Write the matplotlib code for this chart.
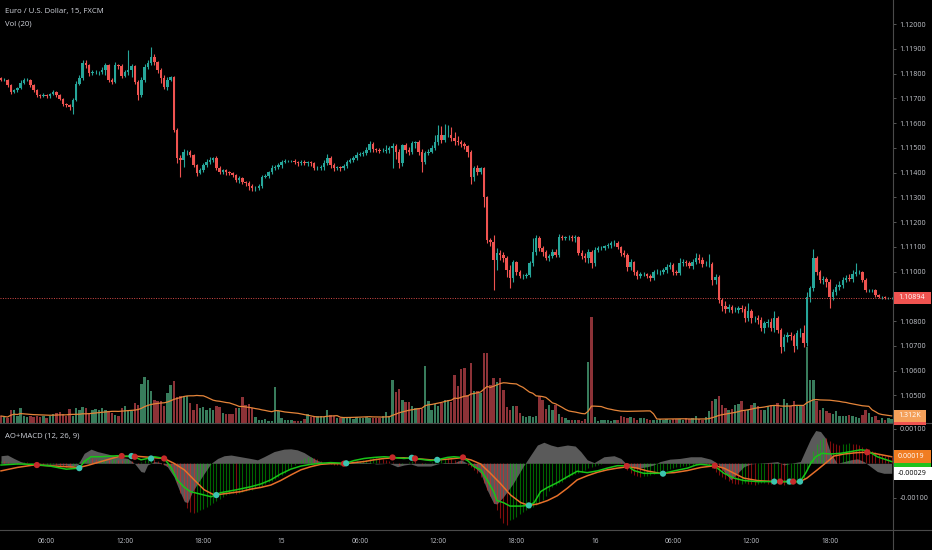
import numpy as np
import pandas as pd
import matplotlib
matplotlib.use("Agg")
import matplotlib.pyplot as plt
from matplotlib.patches import Rectangle
from matplotlib.lines import Line2D

plt.rcParams['font.family'] = ['Open Sans', 'DejaVu Sans']

# EUR/USD 15 min (FXCM)
closes = [
    1.11774, 1.11774, 1.11754, 1.11725, 1.11733, 1.11741, 1.11762, 1.11774, 1.11774, 1.11754,
    1.11733, 1.11713, 1.11709, 1.11713, 1.11709, 1.11717, 1.11725, 1.11713, 1.11697, 1.11677,
    1.11673, 1.11665, 1.11693, 1.11758, 1.11782, 1.11842, 1.11834, 1.11802, 1.11806, 1.11806,
    1.11806, 1.11814, 1.11834, 1.11774, 1.11766, 1.11834, 1.11830, 1.11790, 1.11806, 1.11814,
    1.11830, 1.11766, 1.11713, 1.11774, 1.11826, 1.11842, 1.11867, 1.11846, 1.11814, 1.11782,
    1.11745, 1.11774, 1.11786, 1.11572, 1.11459, 1.11451, 1.11483, 1.11483, 1.11471, 1.11430,
    1.11398, 1.11410, 1.11430, 1.11443, 1.11451, 1.11459, 1.11418, 1.11402, 1.11410, 1.11402,
    1.11398, 1.11390, 1.11370, 1.11378, 1.11362, 1.11358, 1.11346, 1.11337, 1.11337, 1.11346,
    1.11382, 1.11386, 1.11402, 1.11418, 1.11422, 1.11430, 1.11443, 1.11447, 1.11447, 1.11447,
    1.11443, 1.11438, 1.11443, 1.11438, 1.11443, 1.11438, 1.11418, 1.11418, 1.11422, 1.11438,
    1.11459, 1.11430, 1.11418, 1.11422, 1.11418, 1.11426, 1.11443, 1.11451, 1.11459, 1.11471,
    1.11475, 1.11479, 1.11491, 1.11515, 1.11495, 1.11491, 1.11487, 1.11487, 1.11491, 1.11499,
    1.11507, 1.11483, 1.11438, 1.11511, 1.11491, 1.11483, 1.11519, 1.11523, 1.11483, 1.11443,
    1.11479, 1.11483, 1.11499, 1.11523, 1.11552, 1.11531, 1.11552, 1.11552, 1.11539, 1.11527,
    1.11523, 1.11515, 1.11507, 1.11483, 1.11382, 1.11418, 1.11402, 1.11418, 1.11301, 1.11127,
    1.11119, 1.11047, 1.11075, 1.11067, 1.11055, 1.11006, 1.10974, 1.11038, 1.10998, 1.10982,
    1.10982, 1.10986, 1.11034, 1.11079, 1.11135, 1.11095, 1.11079, 1.11055, 1.11063, 1.11079,
    1.11067, 1.11139, 1.11135, 1.11139, 1.11139, 1.11135, 1.11139, 1.11075, 1.11063, 1.11055,
    1.11079, 1.11034, 1.11087, 1.11095, 1.11095, 1.11103, 1.11107, 1.11115, 1.11115, 1.11099,
    1.11075, 1.11067, 1.11018, 1.11038, 1.10998, 1.10982, 1.10990, 1.10990, 1.10982, 1.10974,
    1.10998, 1.10998, 1.10998, 1.11006, 1.11018, 1.11026, 1.10998, 1.10994, 1.11034, 1.11038,
    1.11034, 1.11022, 1.11038, 1.11055, 1.11047, 1.11030, 1.11030, 1.11030, 1.10966, 1.10978,
    1.10885, 1.10861, 1.10849, 1.10857, 1.10845, 1.10845, 1.10853, 1.10849, 1.10812, 1.10841,
    1.10812, 1.10812, 1.10804, 1.10772, 1.10792, 1.10796, 1.10772, 1.10812, 1.10764, 1.10695,
    1.10735, 1.10744, 1.10740, 1.10699, 1.10752, 1.10752, 1.10711, 1.10897, 1.10933, 1.11055,
    1.10998, 1.10966, 1.10970, 1.10958, 1.10897, 1.10917, 1.10937, 1.10946, 1.10966, 1.10974,
    1.10970, 1.10990, 1.10998, 1.10998, 1.10966, 1.10925, 1.10925, 1.10925, 1.10905, 1.10897,
    1.10897, 1.10893, 1.10893, 1.10894,
]
first_open = 1.11780

# wick lengths beyond the body, in points (0.00001)
wick_up = [
    6, 8, 5, 4, 6, 5, 10, 6, 8, 4, 5, 6, 4, 8, 5, 6, 9, 4, 5, 6,
    5, 4, 8, 10, 12, 14, 12, 6, 8, 10, 6, 12, 10, 5, 8, 12, 6, 8, 10, 80,
    8, 5, 6, 10, 12, 12, 40, 10, 6, 8, 12, 10, 4, 3, 6, 10, 12, 8, 6, 5,
    6, 8, 10, 12, 10, 4, 6, 8, 5, 6, 4, 6, 5, 6, 4, 5, 6, 8, 10, 6,
    8, 10, 6, 12, 8, 10, 6, 8, 5, 4, 6, 5, 8, 6, 5, 4, 6, 8, 10, 12,
    14, 6, 8, 5, 6, 10, 8, 6, 8, 10, 6, 8, 12, 14, 8, 6, 10, 14, 20, 10,
    12, 8, 10, 6, 8, 14, 10, 6, 8, 12, 6, 10, 14, 30, 40, 35, 45, 40, 30, 25,
    20, 10, 8, 6, 8, 10, 12, 6, 4, 6, 8, 30, 20, 10, 12, 8, 20, 10, 6, 8,
    6, 8, 10, 55, 12, 8, 10, 6, 8, 10, 12, 14, 10, 6, 8, 10, 8, 6, 10, 12,
    10, 8, 12, 10, 8, 6, 8, 10, 12, 8, 6, 10, 8, 12, 6, 8, 10, 8, 6, 8,
    10, 12, 8, 10, 14, 12, 8, 10, 20, 12, 8, 10, 14, 20, 16, 10, 12, 40, 8, 10,
    6, 8, 20, 12, 8, 10, 8, 12, 10, 30, 8, 10, 12, 14, 10, 12, 16, 30, 8, 6,
    14, 12, 10, 8, 12, 20, 30, 20, 10, 35, 8, 10, 12, 8, 10, 12, 14, 16, 10, 12,
    14, 18, 35, 10, 6, 8, 6, 5, 4, 5, 6, 4, 5, 4,
]
wick_dn = [
    5, 6, 8, 6, 4, 8, 5, 6, 4, 8, 6, 8, 6, 5, 8, 6, 4, 8, 6, 10,
    8, 12, 30, 6, 4, 8, 10, 12, 6, 8, 10, 6, 20, 8, 10, 6, 12, 8, 6, 10,
    30, 10, 20, 8, 10, 6, 8, 10, 12, 20, 8, 10, 6, 8, 20, 70, 30, 12, 10, 8,
    12, 6, 8, 6, 8, 10, 6, 8, 10, 12, 8, 10, 8, 12, 10, 14, 16, 12, 10, 6,
    8, 6, 10, 8, 6, 8, 10, 6, 5, 6, 8, 10, 8, 6, 10, 12, 8, 6, 8, 10,
    6, 10, 12, 8, 10, 6, 8, 6, 10, 8, 6, 8, 10, 8, 12, 10, 8, 6, 10, 12,
    80, 30, 20, 10, 14, 12, 8, 20, 12, 40, 10, 8, 6, 8, 10, 12, 8, 10, 12, 14,
    10, 12, 14, 20, 30, 16, 12, 10, 40, 12, 16, 120, 40, 20, 16, 30, 40, 16, 12, 10,
    12, 10, 8, 10, 12, 14, 16, 10, 12, 8, 10, 8, 6, 8, 10, 12, 14, 10, 12, 16,
    20, 20, 12, 10, 8, 10, 8, 12, 10, 8, 12, 10, 16, 10, 12, 14, 10, 8, 10, 12,
    8, 10, 12, 8, 10, 6, 14, 10, 8, 10, 12, 8, 10, 8, 12, 10, 8, 12, 20, 16,
    14, 20, 16, 12, 14, 10, 12, 14, 16, 12, 20, 14, 18, 12, 20, 16, 14, 18, 12, 24,
    16, 20, 18, 24, 12, 16, 14, 12, 20, 10, 12, 14, 16, 20, 44, 12, 10, 12, 14, 10,
    8, 12, 10, 8, 10, 8, 6, 8, 6, 5, 6, 4, 5, 4,
]

volume = [
    1295, 1110, 925, 2405, 2405, 1295, 2775, 1295, 1110, 1295,
    1110, 1295, 1110, 1295, 925, 1295, 1665, 1850, 2035, 1665,
    1295, 2590, 1295, 2775, 2405, 2960, 2775, 1850, 2405, 2590,
    2405, 2775, 2405, 2220, 1850, 1480, 1295, 2775, 3145, 2405,
    2220, 3700, 3330, 7215, 8510, 7955, 5920, 4255, 4070, 4070,
    3145, 5550, 7030, 7770, 4810, 4995, 4995, 4995, 3700, 2405,
    3515, 2775, 2960, 2405, 2775, 2405, 3145, 2960, 1850, 1665,
    1665, 1665, 2775, 2775, 4810, 3330, 3515, 2775, 1110, 555,
    555, 740, 370, 370, 6660, 2220, 925, 555, 555, 555,
    370, 370, 370, 740, 1665, 1110, 1295, 1295, 1295, 1110,
    2405, 1480, 1295, 925, 925, 925, 925, 925, 740, 1110,
    925, 925, 1110, 925, 925, 925, 925, 1295, 2035, 1295,
    7955, 5735, 6290, 4255, 3885, 3885, 3145, 2775, 2775, 2590,
    10545, 4070, 2405, 3515, 3145, 3700, 4255, 4255, 3885, 8880,
    6845, 9990, 10175, 5180, 11100, 5920, 5920, 5550, 12950, 12950,
    7030, 8325, 7585, 8325, 6105, 2960, 2405, 3145, 3145, 1850,
    1295, 1110, 1295, 1110, 1295, 4995, 4255, 2590, 3330, 2405,
    3330, 1665, 1110, 925, 555, 555, 555, 555, 370, 740,
    11285, 19610, 1110, 370, 555, 555, 555, 370, 555, 555,
    1295, 1110, 925, 1110, 925, 555, 925, 925, 740, 555,
    555, 555, 740, 555, 740, 555, 740, 740, 740, 555,
    925, 740, 925, 1295, 740, 555, 1110, 2220, 4070, 4440,
    4995, 3330, 2775, 2405, 2590, 3330, 3515, 4070, 2405, 2405,
    3330, 3700, 3145, 2405, 2405, 3145, 3330, 3145, 3700, 2775,
    4440, 3700, 3145, 4070, 3145, 3330, 3145, 14060, 7955, 7955,
    4070, 2405, 2775, 2220, 1850, 1665, 2220, 1295, 1295, 1295,
    1480, 1295, 1110, 925, 1480, 2405, 1850, 1110, 1295, 555,
    925, 555, 925, 710,
]

# AO+MACD pane, points (0.00001) at bar positions
macd_at = [0, 5, 10, 15, 20, 24, 25.5, 27.6, 30.6, 35.8, 40.9, 42.9, 44.9, 47, 50, 52, 54, 56, 58,
           61, 64.4, 67.4, 72, 73.5, 76.5, 79.6, 82.7, 85.7, 88.8, 91.9, 94.9, 98, 101, 105.6,
           108.2, 111.3, 114.3, 117.4, 120.4, 123.5, 126, 127.6, 131.7, 133.7, 136.8, 138.8, 141,
           143, 145, 147, 149, 151, 152, 154, 156, 159.3, 161.8, 163.4, 165.4, 167.5, 170.5, 173.6,
           176.6, 179.7, 182.8, 185.8, 188.9, 192, 194, 197, 200, 203, 206.3, 210.4, 213, 214.5,
           218.6, 221.6, 224.7, 227.7, 231.8, 237, 242, 244.9, 246.6, 248.2, 249.7, 251.7, 254.3,
           257.4, 260.4, 263.5, 265.5, 268.6, 273]
macd_pts = [-5, -2, -3, -8, -17, -14, 5, 19, 19, 22, 19, 10, 14, 19, 14, -10, -48, -68, -82,
            -89, -97, -85, -77, -74, -68, -60, -48, -31, -17, -8, -3, 0, 2, 0,
            8, 14, 17, 19, 17, 14, 16, 13, 8, 10, 17, 19, 17,
            8, -10, -19, -48, -82, -108, -114, -124, -124, -122, -114, -82, -70, -56, -39,
            -23, -27, -22, -14, -7, -7, -21, -29, -29, -29, -22, -14, -5, -3,
            -7, -29, -43, -50, -53, -53, -53, -53, -29, 0, 19, 29, 27,
            29, 34, 39, 37, 19, 5]

signal_at = [0, 5, 10, 15, 20, 24, 26.6, 30.6, 35.8, 40.9, 46, 50, 53, 56.2, 59.2, 62.3, 65.4,
             69.5, 73.5, 76.5, 79.6, 82.7, 85.7, 88.8, 91.9, 94.9, 98, 101, 105, 108.2, 111.3,
             114.3, 117.4, 120.4, 123.5, 126.6, 131.7, 133.7, 136.8, 141, 144, 147, 150, 153,
             156.2, 159.3, 161.8, 164.4, 167.5, 170.5, 173.6, 176.6, 179.7, 182.8, 185.8, 188.9,
             192, 195, 198, 202, 206.3, 210.4, 214.5, 218.8, 221.6, 224.7, 227.7, 231.8, 237,
             242, 244.9, 247, 250.2, 253.3, 255.3, 258.4, 262.5, 265.5, 268.6, 273]
signal_pts = [-22, -12, -5, -7, -10, -12, -6, 5, 19, 21, 17, 14, 0, -19, -48, -77, -92,
              -87, -82, -75, -70, -63, -50, -34, -19, -10, -3, -1, -1, 2, 5,
              10, 14, 16, 16, 14, 10, 10, 12, 16, 10, -2, -29, -58,
              -92, -114, -122, -118, -108, -94, -72, -48, -36, -26, -19, -14,
              -10, -14, -22, -29, -27, -21, -12, -7, -14, -29, -43, -50, -53,
              -53, -53, -43, -19, 5, 21, 27, 31, 32, 27, 19]

ao_at = [0, 2, 4, 6, 8, 12, 16, 20, 21.5, 23.5, 25.5, 27.6, 29.6, 32.7, 35.8, 38.8, 40.9, 42.9,
         43.9, 44.9, 47, 49, 51, 53, 54.6, 56.2, 57.2, 58.7, 60.3, 62.3, 64.4, 66.4, 68.4, 70.5,
         73.5, 76.5, 78.6, 80.6, 83.7, 86.7, 88.8, 90.8, 92.9, 94.9, 97, 99, 101, 107, 113, 115,
         119, 121.5, 123.5, 125.6, 127.6, 131.7, 133.7, 135.8, 139, 141, 143, 145, 147, 149, 151,
         152, 154, 157, 160, 162, 164.4, 166.4, 168.5, 170.5, 173.6, 176, 177.7, 179.7, 181.8,
         184.8, 187.9, 190, 192, 195, 198, 200, 202, 205, 208, 211.4, 214.5, 217.5, 219.6, 221.6,
         223.7, 225.7, 227.7, 229.8, 231.8, 236, 238, 240, 242, 245, 246.6, 248.2, 249.7, 251.2,
         252.8, 254.3, 256.3, 258.4, 260.4, 262.5, 264.5, 266.6, 268.6, 270.6, 273]
ao_pts = [22, 24, 14, 5, 0, -2, -2, -5, -10, -5, 29, 41, 34, 27, 19, 14, 0, -24,
          -26, -5, 5, 2, -10, -39, -77, -111, -114, -82, -58, -29, 0, 14, 22, 24,
          19, 14, 10, 19, 34, 41, 42, 39, 31, 19, 8, 2, 0, 3, 2, -2,
          0, -10, -5, -2, -8, -8, -2, 2, 2, 10, 0, -10, -29, -77, -116,
          -118, -97, -58, -10, 19, 53, 61, 53, 48, 53, 50, 34, 10, 2,
          19, 22, 14, -5, -14, -10, -5, 5, 12, 14, 19, 19, 12, 0, -24,
          -48, -29, -10, -2, 0, 3, 5, -5, 0, 5, 39, 72, 95, 92,
          72, 29, 0, 5, 10, 13, 5, -10, -24, -29, -29]

hist_pts = [
    8, 6, 4, 2, 0, -2, 2, 4, 3, 1,
    -2, -4, -5, -6, -5, -4, -3, -5, -7, -9,
    -10, -11, -8, -3, 3, 10, 14, 15, 14, 12,
    12, 13, 14, 10, 12, 13, 10, 9, 10, 12,
    8, 2, -2, 5, 10, 15, 16, 12, 6, -2,
    -6, -8, -10, -29, -58, -87, -106, -130, -140, -143,
    -140, -135, -132, -127, -120, -114, -108, -104, -99, -93,
    -89, -85, -88, -86, -84, -80, -78, -76, -73, -70,
    -66, -60, -55, -50, -45, -40, -34, -28, -20, -12,
    -4, 4, 10, 14, 17, 18, 16, 12, 8, 4,
    2, -2, -4, -6, -5, -3, 0, 3, 5, 6,
    8, 9, 10, 12, 14, 15, 14, 12, 10, 8,
    5, 0, -4, -2, 2, 5, 8, 6, 2, -3,
    -2, 1, 4, 8, 12, 14, 15, 14, 12, 10,
    8, 6, 2, -4, -10, -19, -28, -39, -58, -77,
    -96, -116, -135, -159, -174, -179, -164, -160, -155, -148,
    -142, -135, -130, -126, -121, -114, -106, -94, -80, -68,
    -62, -57, -53, -46, -40, -34, -30, -27, -24, -19,
    -14, -10, -7, -4, -2, 0, 2, 4, 5, 5,
    3, -8, -20, -29, -34, -37, -39, -38, -36, -34,
    -32, -29, -24, -20, -19, -17, -15, -12, -10, -9,
    -8, -6, -5, -4, -2, 0, -2, -6, -14, -24,
    -33, -40, -46, -52, -57, -60, -61, -60, -58, -59,
    -60, -62, -60, -58, -57, -59, -61, -60, -58, -60,
    -62, -61, -59, -58, -56, -53, -45, -20, 10, 35,
    55, 68, 74, 72, 66, 60, 56, 54, 55, 57,
    58, 56, 55, 52, 48, 44, 40, 36, 32, 28,
    25, 22, 20, 18,
]

cross_at = [11, 24, 37, 40, 41, 46, 50, 66, 105.1, 105.8, 120, 125.9, 126.9, 133.7, 141.6,
            161.8, 191.8, 202.9, 218.8, 237, 238.8, 241.7, 242.8, 244.9, 265.5]
cross_pts = [-5, -14, 21, 21, 19, 14, 14, -92, -1, 0, 17, 16, 14, 10, 17,
             -122, -8, -30, -7, -53, -53, -53, -53, -53, 32]
cross_up = [False, True, False, True, False, True, False, True, False, True, False, True, False,
            True, False, True, False, True, False, True, False, True, False, True, False]

time_ticks = [14, 38, 62, 86, 110, 134, 158, 182, 206, 230, 254]
time_labels = ['06:00', '12:00', '18:00', '15', '06:00', '12:00', '18:00', '16',
               '06:00', '12:00', '18:00']
price_ticks = [1.105, 1.106, 1.107, 1.108, 1.110, 1.111, 1.112, 1.113, 1.114,
               1.115, 1.116, 1.117, 1.118, 1.119, 1.120]
macd_ticks = [-0.001, 0.001]

# colours
BG = '#000000'
UP, DN = '#26a69a', '#ef5350'
VUP, VDN = '#387c5c', '#8c3237'
TXT = '#c4c7ce'
LINE = '#4a4a4a'
ORANGE = '#e6702a'
GREEN = '#18c418'

W, H = 932, 550
PANE_R = 893


def rect(l, t, r, b):
    return [l / W, 1 - b / H, (r - l) / W, (b - t) / H]


closes_a = np.array(closes)
opens_a = np.array([first_open] + closes[:-1])
highs = np.maximum(opens_a, closes_a) + np.array(wick_up) * 1e-5
lows = np.minimum(opens_a, closes_a) - np.array(wick_dn) * 1e-5
x = np.arange(len(closes))
up = closes_a >= opens_a

fig = plt.figure(figsize=(W / 100, H / 100), dpi=100, facecolor=BG)
axv = fig.add_axes(rect(0, 0, PANE_R, 423))
ax = fig.add_axes(rect(0, 0, PANE_R, 423))
axm = fig.add_axes(rect(0, 423, PANE_R, 530))
axv.set_facecolor(BG)
ax.patch.set_visible(False)
axm.set_facecolor(BG)
for a in (axv, ax, axm):
    a.set_xlim(-0.31, 273.4)
    for s in a.spines.values():
        s.set_visible(False)

# volume overlay
axv.bar(x, volume, width=0.74, color=np.where(up, VUP, VDN), lw=0)
vol_ma = pd.Series(volume).rolling(20, min_periods=1).mean()
axv.plot(x, vol_ma, color='#e5853a', lw=0.9)
axv.set_ylim(0, 423 * 185)
axv.set_xticks([])
axv.set_yticks([])

# candles
col = np.where(up, UP, DN)
ax.vlines(x, lows, highs, colors=col, lw=0.8)
body = np.maximum(np.abs(closes_a - opens_a), 0.000014)
ax.bar(x, body, bottom=np.minimum(opens_a, closes_a), width=0.76, color=col, lw=0)
ax.axhline(closes[-1], color=DN, lw=0.7, ls=(0, (1, 1.5)), alpha=0.9)
ax.set_ylim(1.10388, 1.12097)
ax.set_xticks([])
ax.yaxis.tick_right()
ax.set_yticks(price_ticks)
ax.set_yticklabels([f'{p:.5f}' for p in price_ticks])
ax.tick_params(axis='y', colors=TXT, labelsize=5.1, length=2.5, width=0.6, pad=2)
ax.tick_params(axis='y', color='#666666')

# AO+MACD pane
pts = 1e-5
axm.fill_between(ao_at, np.array(ao_pts) * pts, 0, color='#5a5a5a', lw=0, zorder=1)
hist = np.array(hist_pts) * pts
rising = np.diff(hist, prepend=hist[0]) >= 0
axm.vlines(x, 0, hist, colors=np.where(rising, '#00c800', '#ff1a1a'), lw=0.8, alpha=0.5, zorder=2)
axm.plot(signal_at, np.array(signal_pts) * pts, color=ORANGE, lw=1.1, zorder=3)
axm.plot(macd_at, np.array(macd_pts) * pts, color=GREEN, lw=1.1, zorder=4)
axm.scatter(cross_at, np.array(cross_pts) * pts, s=20, lw=0, zorder=5,
            c=['#3cc4b0' if u else '#c62a2a' for u in cross_up])
axm.set_ylim(-0.001933, 0.001168)
axm.yaxis.tick_right()
axm.set_yticks(macd_ticks)
axm.set_yticklabels([f'{v:.5f}' for v in macd_ticks])
axm.tick_params(axis='y', colors=TXT, labelsize=5.1, length=2.5, width=0.6, pad=2)
axm.tick_params(axis='y', color='#666666')
axm.set_xticks(time_ticks)
axm.set_xticklabels(time_labels)
axm.tick_params(axis='x', colors=TXT, labelsize=4.8, length=0, pad=5.5)

# pane separators and price scale border
fig.add_artist(Line2D([PANE_R / W] * 2, [0, 1], color=LINE, lw=0.8))
for yy in (423, 530):
    fig.add_artist(Line2D([0, 1], [1 - yy / H] * 2, color=LINE, lw=0.8))


def tag(a, value, text, face, fg, w=37, h=12.5, z=10):
    yd = a.transData.transform((0, value))[1]
    fig.add_artist(Rectangle((894 / W, (yd - h / 2) / H), w / W, h / H,
                             transform=fig.transFigure, facecolor=face,
                             edgecolor='none', zorder=z))
    if text:
        fig.text(898 / W, yd / H, text, color=fg, fontsize=5.1, va='center',
                 ha='left', zorder=z + 1)


tag(ax, closes[-1], f'{closes[-1]:.5f}', DN, 'white')
tag(axv, volume[-1], '', DN, 'white', w=32, z=8)
tag(axv, vol_ma.iloc[-1], f'{vol_ma.iloc[-1] / 1000:.3f}K', '#f4a05a', 'white', w=32)
# MACD value tag sits under the signal and AO tags, its text is covered there
tag(axm, macd_pts[-1] * pts, '', '#1fc21f', '#111111', z=8)
tag(axm, signal_pts[-1] * pts, f'{signal_pts[-1] * pts:.5f}', '#f07d22', 'white', z=10)
tag(axm, ao_pts[-1] * pts, f'{ao_pts[-1] * pts:.5f}', 'white', 'black', w=38, z=12)

fig.text(5 / W, 1 - 11 / H, 'Euro / U.S. Dollar, 15, FXCM', color='#d1d4dc', fontsize=5.6, va='center')
fig.text(5 / W, 1 - 24 / H, 'Vol (20)', color='#d1d4dc', fontsize=5.6, va='center')
fig.text(5 / W, 1 - 436 / H, 'AO+MACD (12, 26, 9)', color='#d1d4dc', fontsize=5.6, va='center')

fig.savefig('out.png', dpi=100, facecolor=BG)
